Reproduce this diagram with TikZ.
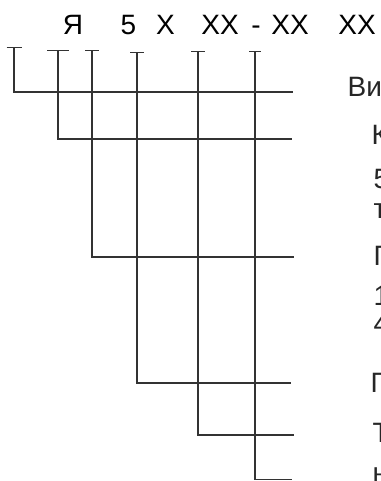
\documentclass[tikz,border=0pt]{standalone}
\usepackage{fontspec}
\setmainfont{Liberation Sans}
\usetikzlibrary{arrows.meta}
\begin{document}
\begin{tikzpicture}[x=0.75pt,y=-0.75pt,line width=1pt]
            %
            % `codepart' is used for the parts of the designation on top.
            % `descr' is used for the texts on the right (cut at the edge).
            % `leader' is used for the lines from a tick to its text.
            \tikzstyle{codepart} = [anchor=base,inner sep=0pt,font=\fontsize{21}{25}\selectfont]
            \tikzstyle{descr} = [anchor=base west,inner sep=0pt,font=\fontsize{21}{25}\selectfont,text=black!85]
            \tikzstyle{leader} = [draw=black!80]
            %
            \useasboundingbox (0,0) rectangle (380,481);
            \clip (0,0) rectangle (380,481);
            %
            % Designation
            \node[codepart] (ya) at (73,35) {Я};
            \node[codepart] (five) at (128.5,35) {5};
            \node[codepart] (x1) at (165.5,35) {X};
            \node[codepart] (xx1) at (220,35) {XX};
            \node[codepart] (dash) at (256,35) {-};
            \node[codepart] (xx2) at (290,35) {XX};
            \node[codepart] (xx3) at (357,35) {XX};
            %
            % Ticks, corners and line ends
            \coordinate (t1) at (14,47);  \coordinate (c1) at (14,92);    \coordinate (e1) at (293,92);
            \coordinate (t2) at (58,50);  \coordinate (c2) at (58,139);   \coordinate (e2) at (292,139);
            \coordinate (t3) at (92,50);  \coordinate (c3) at (92,257);   \coordinate (e3) at (294,257);
            \coordinate (t4) at (137,52); \coordinate (c4) at (137,383);  \coordinate (e4) at (291,383);
            \coordinate (t5) at (198,51); \coordinate (c5) at (198,435);  \coordinate (e5) at (294,435);
            \coordinate (t6) at (255,51); \coordinate (c6) at (255,479.5); \coordinate (e6) at (292,479.5);
            %
            % Leaders
            \draw[leader,{Bar[width=11.25pt]}-] (t1) -- (c1) -- (e1);
            \draw[leader,{Bar[width=16.5pt]}-] (t2) -- (c2) -- (e2);
            \draw[leader,{Bar[width=10.5pt]}-] (t3) -- (c3) -- (e3);
            \draw[leader,{Bar[width=10.5pt]}-] (t4) -- (c4) -- (e4);
            \draw[leader,{Bar[width=10.5pt]}-] (t5) -- (c5) -- (e5);
            \draw[leader,{Bar[width=9pt]}-] (t6) -- (c6) -- (e6);
            %
            % Texts
            \node[descr] (d1) at (347,97) {Ви};
            \node[descr] (d2) at (371,145) {К};
            \node[descr] (d2a) at (373,188) {5};
            \node[descr] (d2b) at (373,218) {т};
            \node[descr] (d3) at (373,265) {Г};
            \node[descr] (d3a) at (373,305) {1};
            \node[descr] (d3b) at (373,333) {4};
            \node[descr] (d4) at (370,392) {Г};
            \node[descr] (d5) at (372,442) {Т};
            \node[descr] (d5a) at (372,482) {н};
        \end{tikzpicture}
\end{document}
